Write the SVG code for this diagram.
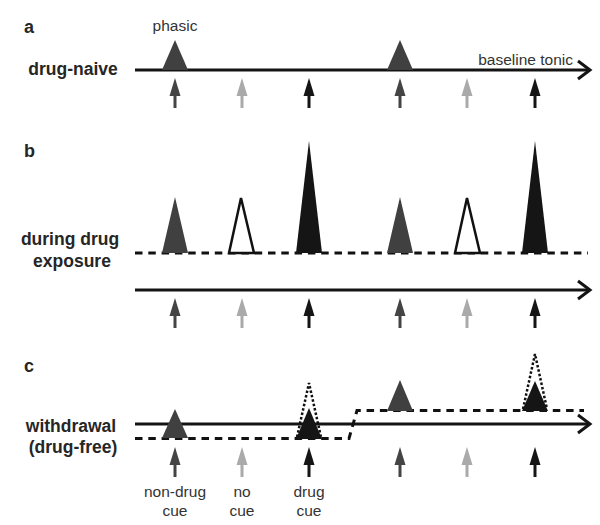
<svg xmlns="http://www.w3.org/2000/svg" xmlns:xlink="http://www.w3.org/1999/xlink" width="600" height="525" viewBox="0 0 600 525">
<style>
.t{font-family:"Liberation Sans",Arial,sans-serif;fill:#262626}
.lbl{font-size:17.5px;font-weight:bold;text-anchor:middle}
.pl{font-size:18px;font-weight:bold}
.sm{font-size:15.5px;fill:#333}
.ax{stroke:#141414;stroke-width:3;fill:none}
.head{stroke:#141414;stroke-width:3;fill:none;stroke-linejoin:miter}
.dash{stroke:#111;stroke-width:3;fill:none;stroke-dasharray:7.5 5.8}
.dg{fill:#404040}
.bk{fill:#151515}
.open{fill:#fff;stroke:#111;stroke-width:2.5;stroke-linejoin:miter}
.dot{fill:none;stroke:#111;stroke-width:2.5;stroke-dasharray:2.5 2}
.c1{fill:#444}
.c2{fill:#aaa}
.c3{fill:#151515}
</style>
<defs>
<g id="up">
<polygon points="0,0 5.5,18 -5.5,18"/>
<rect x="-1.5" y="16" width="3" height="14"/>
</g>
</defs>

<g id="panel-a">
<text class="t pl" x="24" y="33">a</text>
<text class="t lbl" x="73" y="75">drug-naive</text>
<text class="t sm" x="175" y="31" text-anchor="middle">phasic</text>
<text class="t sm" x="573" y="65" text-anchor="end">baseline tonic</text>
<g id="a-axis"><line class="ax" x1="135" y1="70" x2="589" y2="70"/><polyline class="head" points="578,61 590,70 578,79"/></g>
<g id="a-peak1"><polygon class="dg" points="162,70 175,40 188,70"/></g>
<g id="a-peak2"><polygon class="dg" points="387,70 400,40 413,70"/></g>
</g>

<g id="panel-b">
<text class="t pl" x="24" y="157">b</text>
<text class="t lbl" x="70" y="245">during drug</text>
<text class="t lbl" x="72" y="267">exposure</text>
<line class="dash" x1="135" y1="253" x2="588" y2="253"/>
<g id="b-axis"><line class="ax" x1="135" y1="290" x2="589" y2="290"/><polyline class="head" points="578,281 590,290 578,299"/></g>
<g id="b-peak1"><polygon class="dg" points="162,253 175,197 188,253"/></g>
<g id="b-peak2"><polygon class="open" points="229,253 241,198 254,253"/></g>
<g id="b-peak3"><polygon class="bk" points="296,253 309,141 322,253"/></g>
<g id="b-peak4"><polygon class="dg" points="387,253 400,197 413,253"/></g>
<g id="b-peak5"><polygon class="open" points="455,253 467,198 480,253"/></g>
<g id="b-peak6"><polygon class="bk" points="522,253 535,141 548,253"/></g>
</g>

<g id="panel-c">
<text class="t pl" x="24" y="372">c</text>
<text class="t lbl" x="71" y="432">withdrawal</text>
<text class="t lbl" x="73" y="453">(drug-free)</text>
<g id="c-axis"><line class="ax" x1="135" y1="424" x2="589" y2="424"/><polyline class="head" points="578,415 590,424 578,433"/></g>
<polyline class="dash" points="135,438.5 349,438.5 357,410.5 584,410.5"/>
<g id="c-peak1"><polygon class="dg" points="162,438 175,409 188,438"/></g>
<g id="c-peak2"><polygon class="bk" points="296,439 309,408 322,439"/><polyline class="dot" points="297,437 309,383 321,437"/></g>
<g id="c-peak3"><polygon class="dg" points="387,411 400,380 413,411"/></g>
<g id="c-peak4"><polygon class="bk" points="522,411 535,381 548,411"/><polyline class="dot" points="523,409 535,354 547,409"/></g>
<text class="t sm" x="175" y="497" text-anchor="middle">non-drug</text>
<text class="t sm" x="175" y="516" text-anchor="middle">cue</text>
<text class="t sm" x="242" y="497" text-anchor="middle">no</text>
<text class="t sm" x="242" y="516" text-anchor="middle">cue</text>
<text class="t sm" x="309" y="497" text-anchor="middle">drug</text>
<text class="t sm" x="309" y="516" text-anchor="middle">cue</text>
</g>

<g id="cue-arrows">
<use xlink:href="#up" class="c1" x="175" y="78"/>
<use xlink:href="#up" class="c2" x="242" y="78"/>
<use xlink:href="#up" class="c3" x="309" y="78"/>
<use xlink:href="#up" class="c1" x="400" y="78"/>
<use xlink:href="#up" class="c2" x="467" y="78"/>
<use xlink:href="#up" class="c3" x="535" y="78"/>
<use xlink:href="#up" class="c1" x="175" y="298"/>
<use xlink:href="#up" class="c2" x="242" y="298"/>
<use xlink:href="#up" class="c3" x="309" y="298"/>
<use xlink:href="#up" class="c1" x="400" y="298"/>
<use xlink:href="#up" class="c2" x="467" y="298"/>
<use xlink:href="#up" class="c3" x="535" y="298"/>
<use xlink:href="#up" class="c1" x="175" y="447"/>
<use xlink:href="#up" class="c2" x="242" y="447"/>
<use xlink:href="#up" class="c3" x="309" y="447"/>
<use xlink:href="#up" class="c1" x="400" y="447"/>
<use xlink:href="#up" class="c2" x="467" y="447"/>
<use xlink:href="#up" class="c3" x="535" y="447"/>
</g>
</svg>
